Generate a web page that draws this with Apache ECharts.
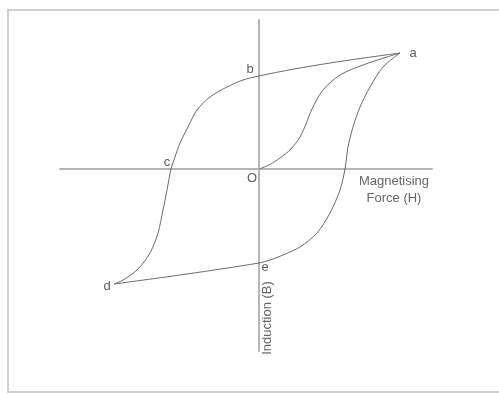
<!DOCTYPE html>
<html>
<head>
<meta charset="utf-8">
<script src="https://cdn.jsdelivr.net/npm/echarts@6/dist/echarts.min.js"></script>
<style>
  html, body { margin: 0; padding: 0; background: #fff; }
  #chart { width: 499px; height: 394px; }
</style>
</head>
<body>
<div id="chart"></div>
<script>
// B-H hysteresis loop, arbitrary units (origin O at 0,0)
const initialH = [0, 10, 21, 32, 41, 47, 53, 64, 81, 104, 128, 141];
const initialB = [0, 4, 11, 20, 32, 45, 60, 79, 94, 104, 112, 116];

// a -> b -> c -> d
const fallingH = [141, 105, 71, 35, 0, -16, -32, -49, -62, -71, -79, -84, -88, -92, -96, -101, -109, -122, -136, -145];
const fallingB = [116, 111, 106, 100, 93, 89, 82, 72, 59, 42, 26, 12, 0, -21, -41, -64, -84, -101, -111, -115];

// d -> e -> a
const risingH = [-145, -72, 0, 11, 24, 41, 58, 71, 81, 86, 89, 94, 101, 111, 124, 141];
const risingB = [-115, -105, -94, -91, -86, -78, -64, -44, -21, 0, 22, 42, 62, 82, 102, 116];

const pointNames = ['a', 'b', 'c', 'd', 'e', 'O'];
const pointH = [141, 0, -88, -145, 0, 0];
const pointB = [116, 93, 0, -115, -94, 0];

const zip = (xs, ys) => xs.map((x, i) => [x, ys[i]]);

// label offsets, px
const labelOffsets = {
  a: [13, 0], b: [-9, -7], c: [-4, -7], d: [-7, 2], e: [6, 4], O: [-7, 9]
};

const chart = echarts.init(document.getElementById('chart'));

const curveStyle = { color: '#6a6a6a', width: 1 };

chart.setOption({
  animation: false,
  grid: { left: 60, right: 67, top: 20, bottom: 43 },
  xAxis: {
    type: 'value', min: -199, max: 173,
    axisLine: { show: true, onZero: true, lineStyle: { color: '#b5b5b5', width: 2 } },
    axisTick: { show: false }, axisLabel: { show: false }, splitLine: { show: false }
  },
  yAxis: {
    type: 'value', min: -182, max: 149,
    axisLine: { show: true, onZero: true, lineStyle: { color: '#b5b5b5', width: 2 } },
    axisTick: { show: false }, axisLabel: { show: false }, splitLine: { show: false }
  },
  graphic: [
    {
      type: 'rect', silent: true,
      shape: { x: 8, y: 10, width: 500, height: 382 },
      style: { fill: null, stroke: '#d0d0d0', lineWidth: 2 }
    },
    {
      type: 'text', x: 394, y: 173,
      style: {
        text: 'Magnetising\nForce (H)', align: 'center', verticalAlign: 'top',
        font: '13px "Liberation Sans", Arial, sans-serif', fill: '#666', lineHeight: 17
      }
    },
    {
      type: 'text', x: 267, y: 318, rotation: Math.PI / 2,
      style: {
        text: 'Induction (B)', align: 'center', verticalAlign: 'middle',
        font: '13px "Liberation Sans", Arial, sans-serif', fill: '#666'
      }
    }
  ],
  series: [
    { type: 'line', data: zip(initialH, initialB), smooth: 0.3, showSymbol: false, lineStyle: curveStyle },
    { type: 'line', data: zip(fallingH, fallingB), smooth: 0.3, showSymbol: false, lineStyle: curveStyle },
    { type: 'line', data: zip(risingH, risingB), smooth: 0.3, showSymbol: false, lineStyle: curveStyle },
    {
      type: 'scatter', symbolSize: 0,
      data: pointNames.map((n, i) => ({
        value: [pointH[i], pointB[i]], name: n,
        label: { offset: labelOffsets[n] }
      })),
      label: {
        show: true, position: 'inside', formatter: '{b}',
        color: '#333', fontSize: 13, fontFamily: '"Liberation Sans", Arial, sans-serif'
      }
    }
  ]
});
</script>
</body>
</html>
